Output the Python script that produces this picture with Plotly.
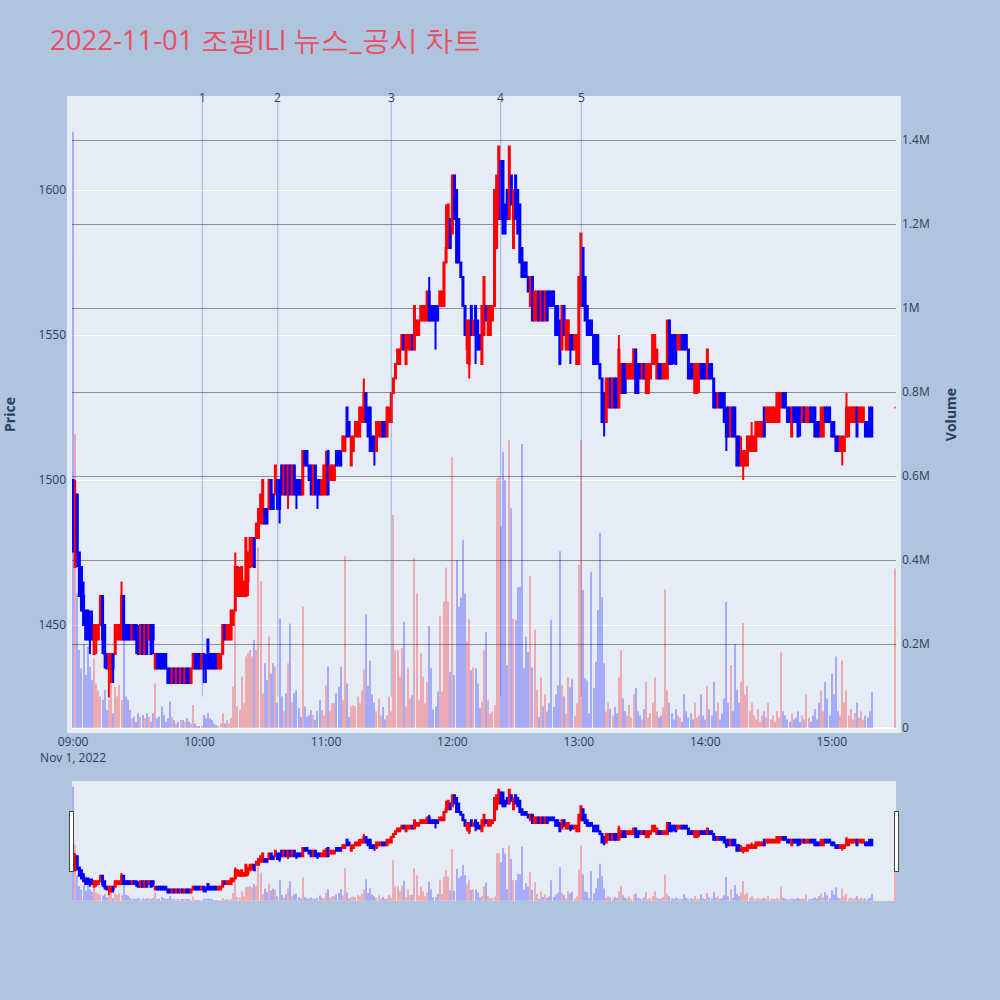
import pandas as pd
import plotly.graph_objects as go
from plotly.subplots import make_subplots

# ---------------- data (1-minute bars, 2022-11-01) ----------------
minute_times = list(pd.date_range("2022-11-01 09:00", periods=380, freq="min").strftime("%Y-%m-%d %H:%M:%S"))
close_auction_time = ["2022-11-01 15:30:00"]
times = minute_times + close_auction_time

open_ = [
    1500,1470,1495,1475,1470,1460,1455,1455,1450,1450, 1440,1445,1445,1450,1460,1450,1440,1435,1435,1440,
    1440,1445,1445,1445,1460,1450,1450,1450,1445,1450, 1450,1445,1440,1450,1440,1450,1445,1450,1450,1435,
    1440,1440,1440,1440,1440,1435,1435,1430,1435,1430, 1435,1430,1435,1430,1435,1435,1430,1435,1440,1440,
    1440,1435,1440,1435,1445,1440,1440,1440,1440,1435, 1435,1440,1450,1445,1445,1445,1450,1455,1460,1460,
    1460,1460,1460,1465,1470,1475,1480,1480,1480,1485, 1485,1490,1490,1490,1500,1495,1495,1500,1500,1505,
    1495,1505,1495,1505,1495,1505,1500,1500,1500,1495, 1510,1510,1505,1505,1495,1505,1500,1500,1495,1495,
    1495,1510,1500,1500,1500,1510,1510,1510,1510,1510, 1525,1520,1505,1510,1515,1515,1515,1520,1520,1530,
    1525,1525,1515,1515,1510,1515,1515,1520,1520,1515, 1520,1520,1530,1535,1540,1540,1545,1550,1540,1545,
    1545,1550,1545,1550,1550,1555,1555,1555,1555,1565, 1560,1560,1560,1560,1560,1560,1560,1575,1580,1590,
    1585,1605,1600,1590,1575,1570,1560,1545,1540,1560, 1550,1560,1555,1550,1540,1550,1560,1550,1550,1555,
    1560,1580,1590,1610,1610,1595,1600,1590,1605,1580, 1605,1600,1595,1580,1575,1575,1570,1560,1570,1555,
    1555,1565,1555,1565,1555,1565,1565,1565,1565,1560, 1560,1555,1545,1560,1545,1545,1550,1550,1545,1540,
    1540,1560,1580,1570,1560,1555,1555,1550,1550,1550, 1540,1535,1530,1520,1525,1535,1525,1535,1535,1525,
    1530,1540,1540,1535,1535,1535,1535,1545,1540,1540, 1535,1540,1530,1530,1535,1540,1540,1535,1540,1540,
    1535,1535,1535,1555,1550,1550,1550,1545,1545,1550, 1550,1550,1545,1540,1540,1530,1530,1535,1540,1540,
    1540,1535,1540,1540,1535,1530,1525,1530,1530,1530, 1525,1525,1515,1525,1525,1515,1515,1505,1505,1505,
    1505,1510,1510,1510,1510,1515,1515,1515,1525,1520, 1520,1520,1520,1520,1520,1520,1525,1530,1530,1525,
    1525,1515,1525,1525,1525,1525,1520,1525,1520,1520, 1525,1525,1525,1520,1520,1515,1515,1525,1525,1525,
    1520,1520,1515,1515,1510,1510,1510,1515,1515,1520, 1520,1520,1525,1520,1520,1520,1520,1520,1525,1525,
    1525,
]
high = [
    1500,1500,1495,1475,1470,1465,1455,1455,1455,1455, 1450,1450,1450,1460,1460,1450,1440,1440,1440,1440,
    1450,1450,1450,1465,1460,1450,1450,1450,1450,1450, 1450,1450,1450,1450,1450,1450,1450,1450,1450,1440,
    1440,1440,1440,1440,1440,1435,1435,1435,1435,1435, 1435,1435,1435,1435,1435,1435,1435,1440,1440,1440,
    1440,1440,1440,1440,1445,1440,1440,1440,1440,1440, 1440,1450,1450,1450,1450,1455,1455,1475,1470,1470,
    1470,1465,1480,1475,1480,1480,1480,1485,1490,1495, 1500,1490,1490,1500,1500,1495,1505,1500,1500,1505,
    1505,1505,1505,1505,1505,1505,1500,1500,1500,1510, 1510,1510,1505,1505,1505,1505,1500,1500,1500,1505,
    1510,1510,1505,1505,1505,1510,1510,1510,1515,1515, 1525,1520,1515,1515,1520,1520,1525,1525,1535,1530,
    1525,1525,1515,1515,1520,1520,1520,1520,1520,1525, 1525,1530,1535,1540,1545,1545,1550,1550,1550,1550,
    1550,1550,1560,1555,1555,1560,1560,1560,1565,1570, 1560,1560,1560,1560,1565,1565,1575,1595,1595,1590,
    1605,1605,1600,1590,1575,1570,1560,1555,1555,1560, 1555,1560,1555,1550,1560,1570,1560,1560,1560,1560,
    1600,1605,1615,1610,1610,1595,1600,1615,1605,1600, 1605,1600,1595,1580,1575,1575,1570,1570,1570,1565,
    1565,1565,1565,1565,1565,1565,1565,1565,1565,1560, 1560,1555,1560,1560,1555,1555,1550,1550,1550,1550,
    1570,1585,1580,1570,1560,1555,1555,1550,1550,1550, 1540,1535,1530,1535,1535,1535,1535,1535,1535,1550,
    1540,1540,1540,1540,1540,1540,1545,1545,1540,1540, 1540,1540,1540,1540,1540,1550,1550,1545,1540,1540,
    1540,1540,1555,1555,1550,1550,1550,1550,1550,1550, 1550,1550,1545,1540,1540,1540,1540,1540,1540,1540,
    1540,1545,1540,1540,1535,1530,1530,1530,1530,1530, 1525,1525,1525,1525,1525,1515,1515,1515,1510,1510,
    1515,1515,1520,1515,1520,1520,1520,1520,1525,1525, 1525,1525,1525,1525,1530,1530,1530,1530,1530,1525,
    1525,1525,1525,1525,1525,1525,1525,1525,1525,1525, 1525,1525,1525,1520,1520,1525,1525,1525,1525,1525,
    1520,1520,1515,1515,1515,1515,1515,1530,1525,1525, 1525,1525,1525,1525,1525,1525,1520,1520,1525,1525,
    1525,
]
low = [
    1475,1470,1470,1460,1455,1450,1445,1445,1440,1445, 1440,1440,1445,1450,1440,1435,1435,1425,1430,1430,
    1440,1445,1445,1445,1445,1445,1445,1445,1445,1445, 1440,1440,1440,1440,1440,1440,1445,1440,1440,1435,
    1435,1435,1435,1435,1435,1430,1430,1430,1430,1430, 1430,1430,1430,1430,1430,1430,1430,1435,1435,1435,
    1435,1435,1430,1430,1435,1435,1435,1435,1435,1435, 1435,1440,1445,1445,1445,1445,1450,1455,1460,1460,
    1460,1460,1460,1460,1470,1470,1470,1480,1480,1485, 1485,1485,1485,1490,1490,1490,1495,1490,1485,1495,
    1495,1495,1490,1495,1495,1495,1490,1495,1495,1495, 1505,1505,1500,1495,1495,1495,1490,1495,1495,1495,
    1495,1495,1500,1500,1500,1505,1505,1505,1510,1510, 1515,1515,1505,1510,1515,1515,1515,1520,1520,1520,
    1515,1510,1510,1505,1510,1515,1515,1515,1515,1515, 1520,1520,1530,1535,1540,1540,1545,1545,1540,1545,
    1545,1545,1545,1550,1550,1555,1555,1555,1555,1555, 1555,1555,1545,1555,1560,1560,1560,1575,1580,1580,
    1585,1590,1575,1575,1570,1560,1550,1540,1535,1550, 1550,1540,1545,1545,1540,1550,1555,1550,1550,1555,
    1560,1580,1590,1590,1585,1585,1590,1590,1595,1580, 1590,1585,1575,1570,1570,1570,1565,1560,1555,1555,
    1555,1555,1555,1555,1555,1555,1560,1560,1560,1550, 1550,1540,1545,1550,1545,1545,1540,1545,1545,1540,
    1540,1560,1560,1555,1550,1550,1550,1540,1540,1540, 1535,1520,1515,1520,1525,1525,1525,1525,1525,1525,
    1530,1530,1530,1535,1535,1535,1535,1530,1530,1535, 1535,1535,1530,1530,1535,1540,1540,1535,1535,1535,
    1535,1535,1535,1540,1540,1540,1540,1545,1545,1545, 1545,1545,1535,1535,1535,1530,1530,1530,1535,1535,
    1535,1535,1535,1535,1525,1525,1525,1525,1525,1520, 1510,1515,1515,1515,1515,1505,1505,1505,1500,1505,
    1505,1510,1510,1510,1510,1515,1515,1515,1515,1520, 1520,1520,1520,1520,1520,1520,1525,1525,1525,1520,
    1520,1515,1520,1520,1515,1515,1520,1520,1520,1520, 1520,1520,1515,1515,1515,1515,1515,1520,1520,1520,
    1515,1515,1510,1510,1510,1505,1510,1515,1515,1520, 1520,1520,1515,1520,1520,1520,1515,1515,1515,1515,
    1525,
]
close = [
    1480,1495,1475,1460,1455,1450,1445,1445,1445,1445, 1450,1450,1450,1460,1445,1440,1435,1440,1440,1435,
    1450,1450,1450,1460,1445,1445,1445,1445,1450,1445, 1445,1440,1450,1440,1450,1440,1450,1440,1445,1440,
    1435,1435,1435,1435,1435,1430,1430,1435,1430,1435, 1430,1435,1430,1435,1430,1430,1435,1440,1435,1435,
    1435,1440,1435,1435,1435,1435,1435,1435,1435,1440, 1440,1450,1445,1450,1450,1455,1455,1470,1470,1465,
    1470,1465,1480,1475,1480,1480,1470,1485,1490,1495, 1500,1485,1485,1500,1490,1490,1505,1490,1490,1495,
    1505,1495,1505,1495,1505,1495,1495,1495,1495,1510, 1505,1505,1500,1495,1505,1495,1495,1495,1500,1505,
    1505,1495,1505,1505,1505,1505,1505,1505,1515,1515, 1515,1515,1515,1515,1520,1520,1525,1525,1530,1520,
    1515,1510,1510,1510,1520,1520,1520,1515,1515,1525, 1525,1530,1535,1540,1545,1545,1550,1545,1550,1550,
    1550,1545,1560,1555,1555,1560,1560,1560,1565,1555, 1555,1555,1555,1555,1565,1565,1575,1580,1595,1580,
    1605,1590,1575,1575,1570,1560,1550,1555,1555,1550, 1555,1550,1545,1545,1560,1570,1555,1560,1560,1560,
    1600,1605,1615,1590,1585,1585,1590,1615,1595,1600, 1590,1585,1575,1570,1570,1570,1565,1570,1555,1565,
    1565,1555,1565,1555,1565,1555,1560,1560,1560,1550, 1550,1540,1560,1550,1555,1555,1545,1545,1550,1550,
    1570,1585,1560,1555,1550,1550,1550,1540,1540,1540, 1535,1520,1520,1535,1535,1525,1535,1525,1525,1545,
    1540,1530,1530,1540,1540,1540,1545,1530,1530,1535, 1540,1535,1540,1540,1540,1550,1550,1545,1535,1535,
    1540,1540,1555,1540,1540,1545,1540,1550,1550,1545, 1545,1545,1535,1535,1535,1540,1540,1540,1535,1535,
    1535,1545,1535,1535,1525,1525,1530,1525,1525,1520, 1515,1515,1525,1515,1515,1505,1505,1510,1510,1510,
    1515,1515,1515,1515,1520,1520,1520,1520,1515,1525, 1525,1525,1525,1525,1530,1530,1530,1525,1525,1520,
    1520,1525,1520,1520,1515,1520,1525,1520,1525,1525, 1520,1520,1515,1515,1515,1525,1525,1520,1520,1520,
    1515,1515,1510,1510,1515,1515,1515,1525,1525,1525, 1525,1525,1515,1525,1525,1525,1515,1515,1515,1515,
    1525,
]
volume_k = [  # thousands of shares
    1420,700,320,186,142,200,126,194,146,114, 166,106,90,75,67,90,43,67,114,35,
    98,75,102,67,253,75,67,43,23,27, 15,35,27,31,23,35,27,15,35,106,
    23,27,51,31,15,23,63,27,19,11, 15,19,19,15,23,15,11,55,11,3,
    3,3,31,23,35,23,19,11,7,3, 11,35,11,19,11,23,98,380,51,43,
    122,59,170,178,186,170,210,186,430,350, 83,154,114,218,130,154,146,60,260,75,
    40,83,154,249,60,83,90,47,27,289, 51,27,31,43,31,19,40,67,43,30,
    102,146,40,59,59,83,98,146,67,410, 106,27,51,55,51,75,59,90,140,270,
    100,160,80,60,40,70,30,50,20,30, 75,40,507,185,185,122,190,253,51,142,
    70,78,404,320,66,178,122,59,110,243, 142,44,51,87,266,87,302,382,302,134,
    646,126,400,289,310,448,320,206,259,137, 144,142,106,47,63,185,228,66,35,39,
    55,594,598,480,658,590,150,686,523,260, 257,336,336,676,142,217,181,362,144,234,
    91,27,120,51,80,39,59,258,50,80, 102,421,102,75,35,120,97,116,29,59,
    388,686,329,118,113,35,372,95,158,281, 465,312,154,39,60,45,30,50,35,120,
    186,70,40,30,55,25,80,95,40,30, 20,45,110,25,35,60,120,40,25,30,
    50,330,90,60,35,20,45,30,25,15, 80,40,25,35,20,60,25,30,80,30,
    20,100,45,30,110,40,60,20,35,70, 300,60,150,40,200,90,60,110,250,80,
    100,40,60,30,20,45,15,30,40,25, 60,20,30,15,40,25,180,40,30,20,
    15,35,20,25,40,15,30,20,80,25, 15,30,45,20,60,90,40,110,70,30,
    130,80,170,40,30,160,60,90,30,45, 20,35,60,25,40,20,30,25,40,85,
    380,
]
volume = [v * 1000 for v in volume_k]

news_times = ["2022-11-01 10:01:20", "2022-11-01 10:37:10", "2022-11-01 11:31:00",
              "2022-11-01 12:22:55", "2022-11-01 13:01:10"]
news_labels = ["1", "2", "3", "4", "5"]

title_text = "2022-11-01 조광ILI 뉴스_공시 차트"

# ---------------- figure ----------------
vol_colors = []
prev_c = None
for o, c in zip(open_, close):
    if c > o or (c == o and prev_c is not None and c > prev_c):
        vol_colors.append("red")
    else:
        vol_colors.append("blue")
    prev_c = c

fig = make_subplots(specs=[[{"secondary_y": True}]])
fig.add_trace(go.Candlestick(
    x=times, open=open_, high=high, low=low, close=close,
    increasing=dict(line=dict(color="red", width=2), fillcolor="red"),
    decreasing=dict(line=dict(color="blue", width=2), fillcolor="blue"),
    showlegend=False, name="Price"), secondary_y=False)
fig.add_trace(go.Bar(
    x=times, y=volume, marker=dict(color=vol_colors, line=dict(width=0)),
    opacity=0.27, showlegend=False, name="Volume"), secondary_y=True)

for t, lab in zip(news_times, news_labels):
    fig.add_shape(type="line", xref="x", yref="paper", x0=t, x1=t, y0=0.05, y1=1,
                  line=dict(color="rgba(65,105,225,0.45)", width=1))
    fig.add_annotation(x=t, xref="x", y=1, yref="paper", text=lab, showarrow=False,
                       yanchor="middle", yshift=4, font=dict(size=12, color="#2a3f5f"))

fig.update_layout(
    width=1000, height=1000,
    paper_bgcolor="lightsteelblue",
    plot_bgcolor="#E5ECF6",
    margin=dict(l=72, r=104, t=101, b=100, pad=5),
    title=dict(text=title_text, x=0.05, xanchor="left", y=0.96, yanchor="middle",
               font=dict(size=27.5, color="#EA4E62")),
    showlegend=False,
    bargap=0.5,
)
fig.update_xaxes(domain=[0, 1], rangeslider=dict(visible=True, thickness=0.15), showgrid=False)
fig.update_yaxes(title=dict(text="<b>Price</b>", standoff=27, font=dict(size=14)),
                 automargin=False, range=[1414.5, 1630.7], dtick=50,
                 showgrid=True, gridcolor="white", secondary_y=False)
fig.update_yaxes(title=dict(text="<b>Volume</b>", standoff=22, font=dict(size=14)),
                 automargin=False, range=[0, 1.493e6], showgrid=True,
                 gridcolor="#8f8f8f", gridwidth=1, secondary_y=True)

fig.write_html("out.html", config={"displayModeBar": False},
               post_script="document.body.style.margin='0px';")
